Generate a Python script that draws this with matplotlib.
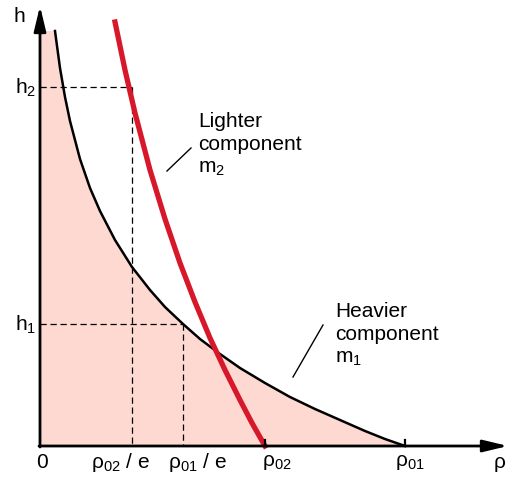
import matplotlib
matplotlib.use("Agg")
import matplotlib.pyplot as plt

plt.rcParams['font.family'] = ['Liberation Sans', 'DejaVu Sans']
plt.rcParams['mathtext.fontset'] = 'custom'
plt.rcParams['mathtext.rm'] = 'Liberation Sans'
plt.rcParams['mathtext.it'] = 'Liberation Sans:italic'

# heavier component m1: density vs height
rho_heavy = [15, 20, 25, 30, 40, 50, 60, 75, 92, 110, 125, 143, 160, 180,
             200, 225, 250, 275, 300, 325, 345, 365]
h_heavy = [415, 378, 349, 325, 287, 258, 235, 206, 179, 156, 139, 122, 107,
           92, 78, 63, 49, 37, 26, 15, 7, 0]

# lighter component m2
rho_light = [75, 85, 95, 110, 125, 140, 155, 170, 185, 200, 212, 225]
h_light = [424, 376, 333, 276, 227, 183, 144, 108, 76, 46, 23, 0]

# marked levels
rho01, rho02 = 365, 225
rho01_e, rho02_e = 143, 92
h1, h2 = 122, 359

fig = plt.figure(figsize=(5.09, 4.81), dpi=100)
ax = fig.add_axes([0, 0, 1, 1])
ax.set_xlim(-40, 469)
ax.set_ylim(-34, 447)
ax.axis('off')

# shaded area under heavier curve
ax.fill([0, 0] + rho_heavy + [rho01], [0, h_heavy[0]] + h_heavy + [0],
        color='#fdd9d2', lw=0, zorder=1)

ax.plot(rho_heavy, h_heavy, color='black', lw=1.8, zorder=3)
ax.plot(rho_light, h_light, color='#d7182a', lw=3.8, zorder=4)

# dashed guides
dash = dict(color='black', lw=0.9, ls=(0, (5, 3)), zorder=2)
ax.plot([0, rho02_e], [h2, h2], **dash)
ax.plot([rho02_e, rho02_e], [h2, 0], **dash)
ax.plot([0, rho01_e], [h1, h1], **dash)
ax.plot([rho01_e, rho01_e], [h1, 0], **dash)

# axes with arrows
arr = dict(arrowstyle='-|>,head_length=0.75,head_width=0.18', lw=2.0,
           color='black', mutation_scale=20, shrinkA=0, shrinkB=0)
ax.annotate('', xy=(0, 440), xytext=(0, -1), arrowprops=arr, zorder=5)
ax.annotate('', xy=(468, 0), xytext=(-1, 0), arrowprops=arr, zorder=5)

# small ticks
for r in (rho02, rho01):
    ax.plot([r, r], [0, 6], color='black', lw=1.6, zorder=5)

fs = 15
ax.text(-21, 430, 'h', fontsize=fs, ha='center', va='center')
ax.text(-4, h2, r'h$_\mathrm{2}$', fontsize=fs, ha='right', va='center')
ax.text(-4, h1, r'h$_\mathrm{1}$', fontsize=fs, ha='right', va='center')

ty = -16
ax.text(2, ty, '0', fontsize=fs, ha='center', va='center')
ax.text(80, ty, r'ρ$_\mathrm{02}$ / e', fontsize=fs, ha='center', va='center')
ax.text(157, ty, r'ρ$_\mathrm{01}$ / e', fontsize=fs, ha='center', va='center')
ax.text(237, ty, r'ρ$_\mathrm{02}$', fontsize=fs, ha='center', va='center')
ax.text(370, ty, r'ρ$_\mathrm{01}$', fontsize=fs, ha='center', va='center')
ax.text(460, ty, 'ρ', fontsize=fs, ha='center', va='center')

# annotations
ax.text(158, 335, 'Lighter\ncomponent\nm$_\\mathrm{2}$', fontsize=fs,
        ha='left', va='top', linespacing=1.25)
ax.plot([127, 151], [275, 298], color='black', lw=1.0)
ax.text(295, 145, 'Heavier\ncomponent\nm$_\\mathrm{1}$', fontsize=fs,
        ha='left', va='top', linespacing=1.25)
ax.plot([253, 283], [69, 121], color='black', lw=1.0)

fig.savefig('out.png', dpi=100)
